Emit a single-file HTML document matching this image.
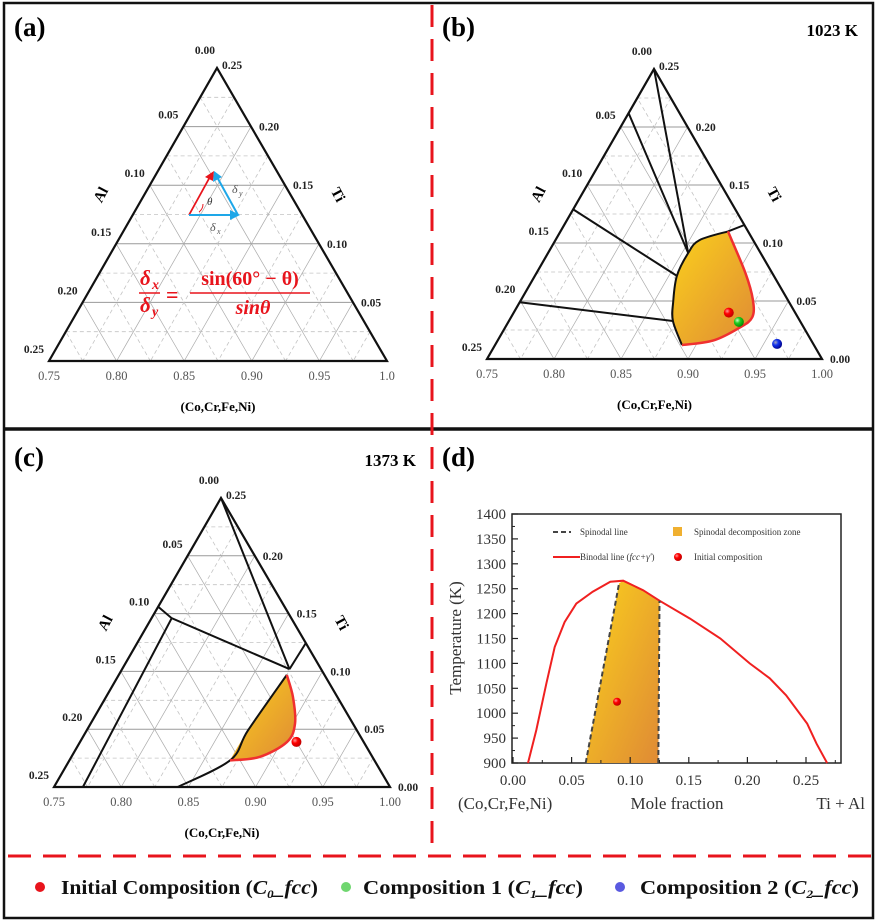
<!DOCTYPE html>
<html><head><meta charset="utf-8">
<style>
html,body{margin:0;padding:0;background:#fff;}
svg{display:block;font-family:"Liberation Serif",serif;}
</style></head>
<body>
<svg id="fig" width="877" height="922" viewBox="0 0 877 922" xmlns="http://www.w3.org/2000/svg">
<defs>
<linearGradient id="zone" x1="0" y1="0" x2="1" y2="1">
<stop offset="0" stop-color="#fbd11c"/><stop offset="1" stop-color="#df8a35"/>
</linearGradient>
<radialGradient id="rdot" cx="0.35" cy="0.35" r="0.7"><stop offset="0" stop-color="#ff9a9a"/><stop offset="0.4" stop-color="#f00"/><stop offset="1" stop-color="#b00"/></radialGradient>
<radialGradient id="gdot" cx="0.35" cy="0.35" r="0.7"><stop offset="0" stop-color="#c8ffc8"/><stop offset="0.4" stop-color="#2c2"/><stop offset="1" stop-color="#080"/></radialGradient>
<radialGradient id="bdot" cx="0.35" cy="0.35" r="0.7"><stop offset="0" stop-color="#aab"/><stop offset="0.4" stop-color="#13e"/><stop offset="1" stop-color="#008"/></radialGradient>
</defs>
<rect x="4" y="3" width="869" height="915" fill="none" stroke="#111" stroke-width="2.5"/>
<line x1="4" y1="429" x2="873" y2="429" stroke="#111" stroke-width="3.5"/>
<line x1="432" y1="5" x2="432" y2="855" stroke="#e8141c" stroke-width="3" stroke-dasharray="22,12"/>
<line x1="8" y1="856" x2="871" y2="856" stroke="#e8141c" stroke-width="3" stroke-dasharray="23,12"/>
<g id="layer"></g>
<g font-weight="bold" font-size="20" fill="#111">
<circle cx="40" cy="887" r="5" fill="#e8141c"/>
<text x="61" y="894" textLength="257" lengthAdjust="spacingAndGlyphs">Initial Composition (<tspan font-style="italic">C<tspan font-size="12" dy="4">0</tspan><tspan dy="-4">_fcc</tspan></tspan>)</text>
<circle cx="346" cy="887" r="5" fill="#6fd66f"/>
<text x="363" y="894" textLength="220" lengthAdjust="spacingAndGlyphs">Composition 1 (<tspan font-style="italic">C<tspan font-size="12" dy="4">1</tspan><tspan dy="-4">_fcc</tspan></tspan>)</text>
<circle cx="620" cy="887" r="5" fill="#5a5ae0"/>
<text x="640" y="894" textLength="219" lengthAdjust="spacingAndGlyphs">Composition 2 (<tspan font-style="italic">C<tspan font-size="12" dy="4">2</tspan><tspan dy="-4">_fcc</tspan></tspan>)</text>
</g>
</svg>
<script>
// ---------- data: panel (b) 1023 K, ternary (Ti, Al) ----------
const bLine1Ti=[0.25,0.0914]; const bLine1Al=[0,0.054];
const bLine2Ti=[0.212,0.0914]; const bLine2Al=[0.038,0.054];
const bLine3Ti=[0.129,0.0716]; const bLine3Al=[0.121,0.0724];
const bLine4Ti=[0.049,0.0328]; const bLine4Al=[0.201,0.0948];
const bLine5Ti=[0.1155,0.110]; const bLine5Al=[0,0.015];
const bBlackTi=[0.110,0.1025,0.0914,0.0716,0.049,0.0328,0.012];
const bBlackAl=[0.015,0.040,0.054,0.0724,0.0865,0.0948,0.0985];
const bRedTi=[0.110,0.074,0.051,0.036,0.027,0.016,0.012];
const bRedAl=[0.015,0.020,0.026,0.034,0.048,0.073,0.0985];
const bPtsTi=[0.040,0.032,0.013]; const bPtsAl=[0.0495,0.046,0.027];
// ---------- data: panel (c) 1373 K ----------
const cLine1Ti=[0.25,0.102]; const cLine1Al=[0,0.0235];
const cLine2Ti=[0.1245,0.102]; const cLine2Al=[0,0.0235];
const cLine3Ti=[0.156,0.146,0.102]; const cLine3Al=[0.094,0.089,0.0235];
const cLine4Ti=[0.146,0]; const cLine4Al=[0.089,0.2285];
const cBlackTi=[0,0.023,0.049,0.097]; const cBlackAl=[0.158,0.1075,0.081,0.028];
const cRedTi=[0.097,0.078,0.055,0.039,0.026,0.023]; const cRedAl=[0.028,0.033,0.043,0.057,0.084,0.1075];
const cPtsTi=[0.039]; const cPtsAl=[0.050];
// ---------- data: panel (d) ----------
const binodalX=[0.0128,0.0199,0.0285,0.0356,0.044,0.054,0.068,0.083,0.094,0.111,0.125,0.151,0.177,0.202,0.219,0.233,0.251,0.259,0.268];
const binodalT=[900,966,1060,1133,1183,1220,1244,1264,1266,1247,1226,1190,1150,1100,1070,1036,979,939,900];
const spinLeftX=[0.062,0.0905]; const spinLeftT=[900,1261];
const spinRightX=[0.124,0.125]; const spinRightT=[900,1226];
const initX=[0.0888]; const initT=[1023];
const dXTicks=["0.00","0.05","0.10","0.15","0.20","0.25"];
const dYTicks=["900","950","1000","1050","1100","1150","1200","1250","1300","1350","1400"];
const ternBase=["0.75","0.80","0.85","0.90","0.95","1.00"];
const ternSide=["0.00","0.05","0.10","0.15","0.20","0.25"];

const NS="http://www.w3.org/2000/svg";
const layer=document.getElementById('layer');
function mk(tag,attrs,parent){const e=document.createElementNS(NS,tag);for(const k in attrs)e.setAttribute(k,attrs[k]);(parent||layer).appendChild(e);return e;}
function txt(s,attrs,parent){const e=mk('text',attrs,parent);e.textContent=s;return e;}

function ternary(name,L,R,T,opts){
  const g=mk('g',{});
  
  
  const P=(ti,al)=>{const wt=ti/0.25,wa=al/0.25,wr=1-wt-wa;return [wr*R[0]+wt*T[0]+wa*L[0], wr*R[1]+wt*T[1]+wa*L[1]];};
  const grid=mk('g',{},g);
  
  
  for(let k=1;k<10;k++){
    const v=k*0.025, solid=k%2===0;
    const st=solid?{stroke:'#9a9a9a','stroke-width':1}:{stroke:'#c4c4c4','stroke-width':0.8,'stroke-dasharray':'4,3'};
    const segs=[[P(v,0.25-v),P(v,0)],[P(0,v),P(0.25-v,v)],[P(v,0),P(0,v)]];
    segs.forEach((s,i)=>{const a=Object.assign({x1:s[0][0],y1:s[0][1],x2:s[1][0],y2:s[1][1]},st);
      if(i>0&&solid){a.stroke='#aaa';a['stroke-width']=0.7;}
      mk('line',a,grid);});
  }
  const tri=mk('polygon',{points:[L,R,T].map(p=>p.join(',')).join(' '),fill:'none',stroke:'#111','stroke-width':2.2,'stroke-linejoin':'miter'},g);
  
  
  const W=R[0]-L[0];
  ternBase.forEach((s,i)=>{const lab=(opts.shortEnd&&i===5)?'1.0':s;
    const t=txt(lab,{x:L[0]+W*i/5,y:L[1]+19,'text-anchor':'middle','font-size':12.5,fill:'#555'},g);
    
    });
  ternSide.forEach((s,i)=>{const p=P(0.25-i*0.05,i*0.05);
    const t=txt(s,{x:i===0?p[0]-2:p[0]-5,y:i===0?p[1]-14:p[1]-8,'text-anchor':'end','font-size':11.5,'font-weight':'bold',fill:'#222'},g);
    
    });
  ternSide.forEach((s,i)=>{if(opts.noZero&&i===0)return;const ti=i*0.05;const p=P(ti,0);
    const t=txt(s,{x:i===5?p[0]+5:p[0]+8,y:i===5?p[1]+1:p[1]+4,'font-size':11.5,'font-weight':'bold',fill:'#222'},g);
    
    });
  const al=P(0.14,0.11), ti=P(0.14,0);
  let t=txt('Al',{x:al[0]-38,y:al[1],'font-size':15,'font-weight':'bold','text-anchor':'middle',transform:`rotate(-62 ${al[0]-38} ${al[1]})`},g);
  
  
  t=txt('Ti',{x:ti[0]+42,y:ti[1],'font-size':15,'font-weight':'bold','text-anchor':'middle',transform:`rotate(62 ${ti[0]+42} ${ti[1]})`},g);
  
  
  t=txt('(Co,Cr,Fe,Ni)',{x:(L[0]+R[0])/2,y:L[1]+50,'text-anchor':'middle','font-size':13,'font-weight':'bold'},g);
  
  
  return {g,P};
}
function path(P,tis,als){return tis.map((t,i)=>{const p=P(t,als[i]);return (i?'L':'M')+p[0].toFixed(1)+','+p[1].toFixed(1);}).join(' ');}
function smooth(P,tis,als){const pts=tis.map((t,i)=>P(t,als[i]));let d='M'+pts[0].join(',');
  for(let i=0;i<pts.length-1;i++){const p0=pts[i-1]||pts[i],p1=pts[i],p2=pts[i+1],p3=pts[i+2]||p2;
    const c1=[p1[0]+(p2[0]-p0[0])/6,p1[1]+(p2[1]-p0[1])/6],c2=[p2[0]-(p3[0]-p1[0])/6,p2[1]-(p3[1]-p1[1])/6];
    d+=` C${c1.join(',')} ${c2.join(',')} ${p2.join(',')}`;}return d;}

[['(a)',14,36],['(b)',442,36],['(c)',14,466],['(d)',442,466]].forEach(a=>{const t=txt(a[0],{x:a[1],y:a[2],'font-size':27,'font-weight':'bold'});
  
  });
let tt=txt('1023 K',{x:858,y:36,'text-anchor':'end','font-size':17,'font-weight':'bold'});


tt=txt('1373 K',{x:416,y:466,'text-anchor':'end','font-size':17,'font-weight':'bold'});



// panel a
const A=ternary('ternary-a',[49,361],[387,361],[217,68],{shortEnd:true,noZero:true});
const ann=mk('g',{},A.g);


mk('line',{x1:189,y1:215,x2:211,y2:175,stroke:'#e8141c','stroke-width':1.8},ann);
mk('polygon',{points:'214,171 205,177 213,181',fill:'#e8141c'},ann);
mk('line',{x1:189,y1:215,x2:233,y2:215,stroke:'#1ea7e8','stroke-width':2},ann);
mk('polygon',{points:'240,215 230,210 230,220',fill:'#1ea7e8'},ann);
mk('line',{x1:238,y1:215,x2:217,y2:177,stroke:'#1ea7e8','stroke-width':2},ann);
mk('polygon',{points:'214,171 213,182 222,177',fill:'#1ea7e8'},ann);
mk('path',{d:'M199,212 A10,10 0 0 0 203,204',fill:'none',stroke:'#e8141c','stroke-width':1},ann);
txt('θ',{x:207,y:205,'font-size':11,'font-style':'italic',fill:'#333'},ann);
txt('δ',{x:232,y:193,'font-size':12,'font-style':'italic',fill:'#555'},ann);
txt('y',{x:239,y:196,'font-size':8,'font-style':'italic',fill:'#555'},ann);
txt('δ',{x:210,y:231,'font-size':12,'font-style':'italic',fill:'#555'},ann);
txt('x',{x:217,y:234,'font-size':8,'font-style':'italic',fill:'#555'},ann);
const eq=mk('g',{fill:'#e8141c','font-weight':'bold'},A.g);


txt('δ',{x:140,y:285,'font-size':21,'font-style':'italic'},eq);txt('x',{x:152,y:289,'font-size':14,'font-style':'italic'},eq);
mk('line',{x1:139,y1:293,x2:160,y2:293,stroke:'#e8141c','stroke-width':1.5},eq);
txt('δ',{x:140,y:312,'font-size':21,'font-style':'italic'},eq);txt('y',{x:152,y:316,'font-size':14,'font-style':'italic'},eq);
txt('=',{x:166,y:302,'font-size':22},eq);
txt('sin(60° − θ)',{x:250,y:285,'font-size':20,'text-anchor':'middle'},eq);
mk('line',{x1:190,y1:293,x2:310,y2:293,stroke:'#e8141c','stroke-width':1.5},eq);
txt('sinθ',{x:253,y:314,'font-size':20,'text-anchor':'middle','font-style':'italic'},eq);

// panel b
const B=ternary('ternary-b',[487,359],[822,359],[654,69],{});
const bz=mk('path',{d:smooth(B.P,bBlackTi,bBlackAl)+' '+smooth(B.P,bRedTi.slice().reverse(),bRedAl.slice().reverse()).replace('M','L')+'Z',fill:'url(#zone)'},B.g);


[[bLine1Ti,bLine1Al],[bLine2Ti,bLine2Al],[bLine3Ti,bLine3Al],[bLine4Ti,bLine4Al],[bLine5Ti,bLine5Al]].forEach((l,i)=>{
  const e=mk('path',{d:path(B.P,l[0],l[1]),fill:'none',stroke:'#111','stroke-width':2},B.g);
  
  });
let e=mk('path',{d:smooth(B.P,bBlackTi,bBlackAl),fill:'none',stroke:'#111','stroke-width':2},B.g);


e=mk('path',{d:smooth(B.P,bRedTi,bRedAl),fill:'none',stroke:'#f03030','stroke-width':2.5},B.g);


['url(#rdot)','url(#gdot)','url(#bdot)'].forEach((f,i)=>{const p=B.P(bPtsTi[i],bPtsAl[i]);
  const c=mk('circle',{cx:p[0],cy:p[1],r:5,fill:f},B.g);
  
  });

// panel c
const C=ternary('ternary-c',[54,787],[390,787],[221,498],{});
e=mk('path',{d:smooth(C.P,cBlackTi.slice(1),cBlackAl.slice(1))+' '+smooth(C.P,cRedTi,cRedAl).replace('M','L')+'Z',fill:'url(#zone)'},C.g);


[[cLine1Ti,cLine1Al],[cLine2Ti,cLine2Al],[cLine3Ti,cLine3Al],[cLine4Ti,cLine4Al]].forEach((l,i)=>{
  const q=mk('path',{d:path(C.P,l[0],l[1]),fill:'none',stroke:'#111','stroke-width':2},C.g);
  
  });
e=mk('path',{d:smooth(C.P,cBlackTi,cBlackAl),fill:'none',stroke:'#111','stroke-width':2},C.g);


e=mk('path',{d:smooth(C.P,cRedTi,cRedAl),fill:'none',stroke:'#f03030','stroke-width':2.5},C.g);


{const p=C.P(cPtsTi[0],cPtsAl[0]);const c=mk('circle',{cx:p[0],cy:p[1],r:5,fill:'url(#rdot)'},C.g);

}

// panel d
const D=mk('g',{});


const X0=513,XS=1172,Y0=763,YS=249/500;
const xs=v=>X0+v*XS, ys=T=>Y0-(T-900)*YS;
e=mk('rect',{x:512,y:514,width:329,height:249,fill:'none',stroke:'#222','stroke-width':1.5},D);


const lc=(xa,ta)=>xa.map((x,i)=>(i?'L':'M')+xs(x).toFixed(1)+','+ys(ta[i]).toFixed(1)).join(' ');
let zd=lc(spinLeftX,spinLeftT);
binodalX.forEach((x,i)=>{if(x>spinLeftX[1]&&x<spinRightX[1])zd+=' L'+xs(x)+','+ys(binodalT[i]);});
zd+=' L'+xs(spinRightX[1])+','+ys(spinRightT[1])+' L'+xs(spinRightX[0])+','+ys(spinRightT[0])+'Z';
e=mk('path',{d:zd,fill:'url(#zone)'},D);


e=mk('path',{d:lc(binodalX,binodalT),fill:'none',stroke:'#f02020','stroke-width':2},D);


[[spinLeftX,spinLeftT],[spinRightX,spinRightT]].forEach((s,i)=>{const q=mk('path',{d:lc(s[0],s[1]),fill:'none',stroke:'#444','stroke-width':2,'stroke-dasharray':'5,3'},D);
  
  });
e=mk('circle',{cx:xs(initX[0]),cy:ys(initT[0]),r:4,fill:'url(#rdot)'},D);


dXTicks.forEach((s,i)=>{const v=i*0.05;mk('line',{x1:xs(v),y1:763,x2:xs(v),y2:757,stroke:'#222','stroke-width':1.2},D);
  mk('line',{x1:xs(v+0.025),y1:763,x2:xs(v+0.025),y2:760,stroke:'#222','stroke-width':1},D);
  const t=txt(s,{x:xs(v),y:785,'text-anchor':'middle','font-size':15,fill:'#333'},D);
  
  });
dYTicks.forEach((s,i)=>{const v=900+i*50;mk('line',{x1:512,y1:ys(v),x2:518,y2:ys(v),stroke:'#222','stroke-width':1.2},D);
  if(i<10)mk('line',{x1:512,y1:ys(v+25),x2:515,y2:ys(v+25),stroke:'#222','stroke-width':1},D);
  const t=txt(s,{x:506,y:ys(v)+5,'text-anchor':'end','font-size':15,fill:'#333'},D);
  
  });
e=txt('Temperature (K)',{x:461,y:638,'text-anchor':'middle','font-size':17,fill:'#333',transform:'rotate(-90 461 638)'},D);


e=txt('(Co,Cr,Fe,Ni)',{x:458,y:809,'font-size':17,fill:'#333'},D);


e=txt('Mole fraction',{x:677,y:809,'text-anchor':'middle','font-size':17,fill:'#333'},D);


e=txt('Ti + Al',{x:865,y:809,'text-anchor':'end','font-size':17,fill:'#333'},D);


const lg=mk('g',{'font-size':9,fill:'#333'},D);


mk('line',{x1:553,y1:532,x2:571,y2:532,stroke:'#444','stroke-width':2,'stroke-dasharray':'5,3'},lg);
txt('Spinodal line',{x:580,y:535},lg);
mk('rect',{x:673,y:527,width:9,height:9,fill:'#f0b030'},lg);
txt('Spinodal decomposition zone',{x:694,y:535},lg);
mk('line',{x1:553,y1:557,x2:580,y2:557,stroke:'#f02020','stroke-width':2},lg);
const bt=txt('Binodal line (',{x:580,y:560},lg);
const ts=mk('tspan',{'font-style':'italic'},bt);ts.textContent="fcc+γ'";
const ts2=mk('tspan',{},bt);ts2.textContent=')';
mk('circle',{cx:678,cy:557,r:4,fill:'url(#rdot)'},lg);
txt('Initial composition',{x:694,y:560},lg);
</script>
</body></html>
